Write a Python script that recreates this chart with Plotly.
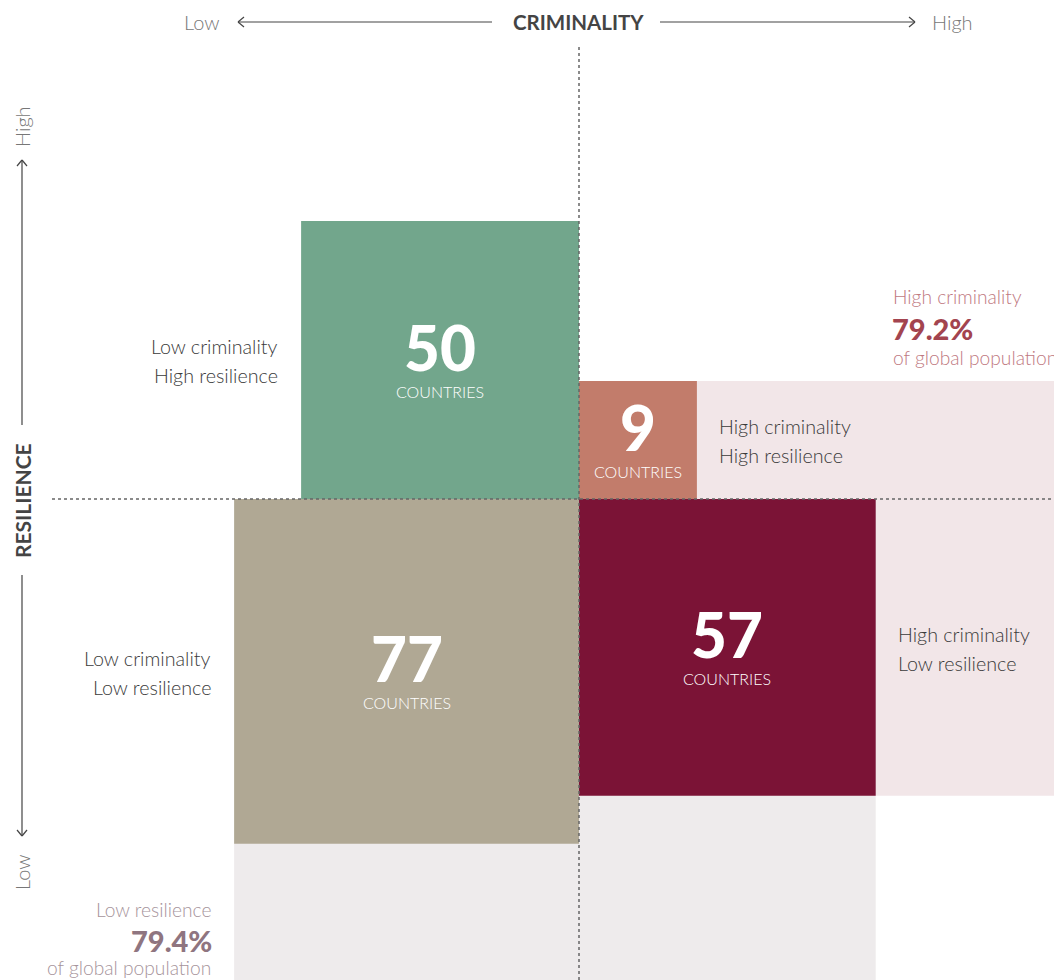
import math
import plotly.graph_objects as go

# ---------------- data ----------------
quad_line1 = ["Low criminality", "High criminality", "Low criminality", "High criminality"]
quad_line2 = ["High resilience", "High resilience", "Low resilience", "Low resilience"]
countries = [50, 9, 77, 57]
# side of quadrant (x sign, y sign): low crim -> left, high res -> up
x_sign = [-1, 1, -1, 1]
y_sign = [1, 1, -1, -1]
colors = ["#72a68c", "#c27c6b", "#b0a894", "#7b1336"]
pop_labels = ["High criminality", "Low resilience"]
pop_values = ["79.2%", "79.4%"]

# ---------------- geometry (layout) ----------------
W, H = 1054, 980
CX, CY = 579, 499          # pixel position of the quadrant origin
U = 39.3                   # pixels per unit (side = sqrt(count) units)
xr = [-CX / U, (W - CX) / U]
yr = [-(H - CY) / U, CY / U]

def px(p):  # pixel -> paper x
    return p / W

def py(p):  # pixel -> paper y
    return 1 - p / H

FONT = "Lato"
fig = go.Figure()

sides = [math.sqrt(c) for c in countries]
s50, s9, s77, s57 = sides

# background regions (population shares)
bg = [
    (0, xr[1] + 1, -s57, s9, "#f2e6e8"),      # high criminality region
    (-s77, s57, yr[0] - 1, 0, "#eeebec"),     # low resilience region
]
for x0, x1, y0, y1, col in bg:
    fig.add_trace(go.Scatter(x=[x0, x1, x1, x0, x0], y=[y0, y0, y1, y1, y0],
                             fill="toself", fillcolor=col, mode="none",
                             hoverinfo="skip", showlegend=False))

for l1, l2, n, s, xs, ys, col in zip(quad_line1, quad_line2, countries, sides,
                                       x_sign, y_sign, colors):
    xa, xb = sorted([0, xs * s])
    ya, yb = sorted([0, ys * s])
    fig.add_trace(go.Scatter(x=[xa, xb, xb, xa, xa], y=[ya, ya, yb, yb, ya],
                             fill="toself", fillcolor=col, mode="none",
                             name=f"{l1}, {l2}", hoverinfo="name", showlegend=False))
    cx, cy = (xa + xb) / 2, (ya + yb) / 2
    fig.add_annotation(x=cx, y=cy, text=str(n), showarrow=False,
                       yshift=13, font=dict(family=FONT, size=62, color="white", weight=900),
                       xanchor="center", yanchor="middle")
    fig.add_annotation(x=cx, y=cy, text="COUNTRIES", showarrow=False,
                       yshift=-31, font=dict(family=FONT, size=16, color="white", weight=300),
                       xanchor="center", yanchor="middle")

# quadrant descriptions (two lines each)
desc_font = dict(family=FONT, size=19.7, color="#3a3a3a", weight=300)
desc_pos = [  # (x px, anchor, y line1 px)
    (280, "right", 346),
    (717, "left", 426),
    (213, "right", 658),
    (896, "left", 634),
]
for (xp, anc, yp), l1, l2 in zip(desc_pos, quad_line1, quad_line2):
    for txt, yy in ((l1, yp), (l2, yp + 29.5)):
        fig.add_annotation(xref="paper", yref="paper", x=px(xp), y=py(yy), text=txt,
                           showarrow=False, xanchor=anc, yanchor="middle", font=desc_font)

# population notes
fig.add_annotation(xref="paper", yref="paper", x=px(891), y=py(297), text=pop_labels[0],
                   showarrow=False, xanchor="left", yanchor="middle",
                   font=dict(family=FONT, size=19.2, color="#c0797f", weight=300))
fig.add_annotation(xref="paper", yref="paper", x=px(890), y=py(328), text=pop_values[0],
                   showarrow=False, xanchor="left", yanchor="middle",
                   font=dict(family=FONT, size=29, color="#a3444f", weight=900))
fig.add_annotation(xref="paper", yref="paper", x=px(891), y=py(357), text="of global population",
                   showarrow=False, xanchor="left", yanchor="middle",
                   font=dict(family=FONT, size=19.2, color="#c0797f", weight=300))

fig.add_annotation(xref="paper", yref="paper", x=px(213), y=py(909), text=pop_labels[1],
                   showarrow=False, xanchor="right", yanchor="middle",
                   font=dict(family=FONT, size=19.2, color="#a6949b", weight=300))
fig.add_annotation(xref="paper", yref="paper", x=px(214), y=py(940), text=pop_values[1],
                   showarrow=False, xanchor="right", yanchor="middle",
                   font=dict(family=FONT, size=29, color="#8f7580", weight=900))
fig.add_annotation(xref="paper", yref="paper", x=px(213), y=py(967), text="of global population",
                   showarrow=False, xanchor="right", yanchor="middle",
                   font=dict(family=FONT, size=19.2, color="#a6949b", weight=300))

# axis titles
fig.add_annotation(xref="paper", yref="paper", x=px(578), y=py(22), text="CRIMINALITY",
                   showarrow=False, xanchor="center", yanchor="middle",
                   font=dict(family=FONT, size=20.5, color="#444444", weight=700))
fig.add_annotation(xref="paper", yref="paper", x=px(221), y=py(22), text="Low",
                   showarrow=False, xanchor="right", yanchor="middle",
                   font=dict(family=FONT, size=20, color="#777777", weight=300))
fig.add_annotation(xref="paper", yref="paper", x=px(930), y=py(22), text="High",
                   showarrow=False, xanchor="left", yanchor="middle",
                   font=dict(family=FONT, size=20, color="#777777", weight=300))
fig.add_annotation(xref="paper", yref="paper", x=px(22), y=py(501), text="RESILIENCE",
                   showarrow=False, xanchor="center", yanchor="middle", textangle=-90,
                   font=dict(family=FONT, size=21, color="#444444", weight=700))
fig.add_annotation(xref="paper", yref="paper", x=px(22), y=py(127), text="High",
                   showarrow=False, xanchor="center", yanchor="middle", textangle=-90,
                   font=dict(family=FONT, size=20, color="#777777", weight=300))
fig.add_annotation(xref="paper", yref="paper", x=px(22), y=py(873), text="Low",
                   showarrow=False, xanchor="center", yanchor="middle", textangle=-90,
                   font=dict(family=FONT, size=20, color="#777777", weight=300))

shapes = []
arrow_line = dict(color="#444444", width=1.2)
def seg(x0, y0, x1, y1):
    shapes.append(dict(type="line", xref="paper", yref="paper",
                       x0=px(x0), y0=py(y0), x1=px(x1), y1=py(y1), line=arrow_line))

# horizontal arrows
seg(238, 22, 492, 22); seg(238, 22, 244, 17); seg(238, 22, 244, 27)
seg(660, 22, 915, 22); seg(915, 22, 909, 17); seg(915, 22, 909, 27)
# vertical arrows
seg(22, 160, 22, 425); seg(22, 160, 17, 166); seg(22, 160, 27, 166)
seg(22, 575, 22, 836); seg(22, 836, 17, 830); seg(22, 836, 27, 830)

# dotted quadrant dividers
dot = dict(color="#666666", width=1.5, dash="dot")
shapes.append(dict(type="line", xref="x", yref="paper", x0=0, x1=0, y0=py(47), y1=0,
                   line=dot, layer="above"))
shapes.append(dict(type="line", xref="paper", yref="y", x0=px(52), x1=1, y0=0, y1=0,
                   line=dot, layer="above"))

fig.update_layout(
    width=W, height=H, margin=dict(l=0, r=0, t=0, b=0),
    paper_bgcolor="white", plot_bgcolor="white",
    xaxis=dict(range=xr, visible=False, fixedrange=True),
    yaxis=dict(range=yr, visible=False, fixedrange=True),
    shapes=shapes, showlegend=False,
)

fig.write_html("out.html")
